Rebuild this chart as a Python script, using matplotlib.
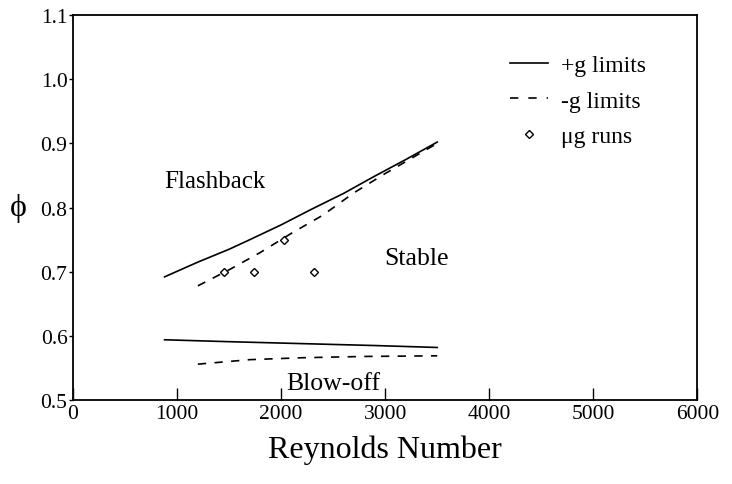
import matplotlib
matplotlib.use("Agg")
import matplotlib.pyplot as plt
from matplotlib.lines import Line2D

plt.rcParams["font.family"] = ["Liberation Serif", "DejaVu Serif"]

# +g limits (solid)
re_flash_pos = [880, 1200, 1500, 1700, 2000, 2300, 2600, 2900, 3200, 3500]
phi_flash_pos = [0.692, 0.715, 0.735, 0.750, 0.773, 0.798, 0.822, 0.849, 0.875, 0.902]
re_blow_pos = [880, 1500, 2200, 2900, 3500]
phi_blow_pos = [0.594, 0.591, 0.588, 0.585, 0.582]

# -g limits (dashed)
re_flash_neg = [1200, 1500, 1800, 2100, 2400, 2700, 3000, 3500]
phi_flash_neg = [0.678, 0.703, 0.730, 0.760, 0.788, 0.823, 0.853, 0.900]
re_blow_neg = [1200, 1700, 2200, 2800, 3500]
phi_blow_neg = [0.556, 0.563, 0.566, 0.568, 0.569]

# microgravity runs
re_ug = [1450, 1740, 2030, 2320]
phi_ug = [0.70, 0.70, 0.75, 0.70]

fig = plt.figure(figsize=(7.32, 4.85), dpi=100)
ax = fig.add_axes([0.0997, 0.173, 0.853, 0.794])

lw = 1.2
dash = (0, (5, 5))
ax.plot(re_flash_pos, phi_flash_pos, "k-", lw=lw)
ax.plot(re_blow_pos, phi_blow_pos, "k-", lw=lw)
ax.plot(re_flash_neg, phi_flash_neg, "k", lw=lw, ls=dash)
ax.plot(re_blow_neg, phi_blow_neg, "k", lw=lw, ls=dash)
ax.plot(re_ug, phi_ug, "D", ms=4.5, mfc="white", mec="black", mew=1.0, ls="none")

ax.set_xlim(0, 6000)
ax.set_ylim(0.5, 1.1)
ax.set_xticks([0, 1000, 2000, 3000, 4000, 5000, 6000])
ax.set_yticks([0.5, 0.6, 0.7, 0.8, 0.9, 1.0, 1.1])
ax.set_yticklabels(["0.5", "0.6", "0.7", "0.8", "0.9", "1.0", "1.1"])
ax.tick_params(axis="x", direction="in", length=9, width=1, labelsize=15.5, pad=3)
ax.tick_params(axis="y", direction="out", length=3, width=1, labelsize=15.5, pad=1)
for s in ax.spines.values():
    s.set_linewidth(1.3)

ax.set_xlabel("Reynolds Number", fontsize=23, labelpad=8)
ax.set_ylabel("ϕ", fontsize=23, rotation=0, labelpad=16, va="center")

ax.text(1360, 0.842, "Flashback", fontsize=18, ha="center", va="center")
ax.text(3300, 0.722, "Stable", fontsize=18.5, ha="center", va="center")
ax.text(2500, 0.527, "Blow-off", fontsize=18.5, ha="center", va="center")

handles = [
    Line2D([], [], color="k", lw=lw),
    Line2D([], [], color="k", lw=lw, ls=(0, (5, 6))),
    Line2D([], [], marker="D", ms=4.5, mfc="white", mec="black", mew=1.0, ls="none"),
]
ax.legend(handles, ["+g limits", "-g limits", "μg runs"], loc="upper left",
          bbox_to_anchor=(0.697, 0.886), bbox_transform=fig.transFigure,
          frameon=False, fontsize=17, borderpad=0, borderaxespad=0,
          handlelength=1.6, handletextpad=0.55, labelspacing=0.6)

fig.savefig("out.png", dpi=100)
